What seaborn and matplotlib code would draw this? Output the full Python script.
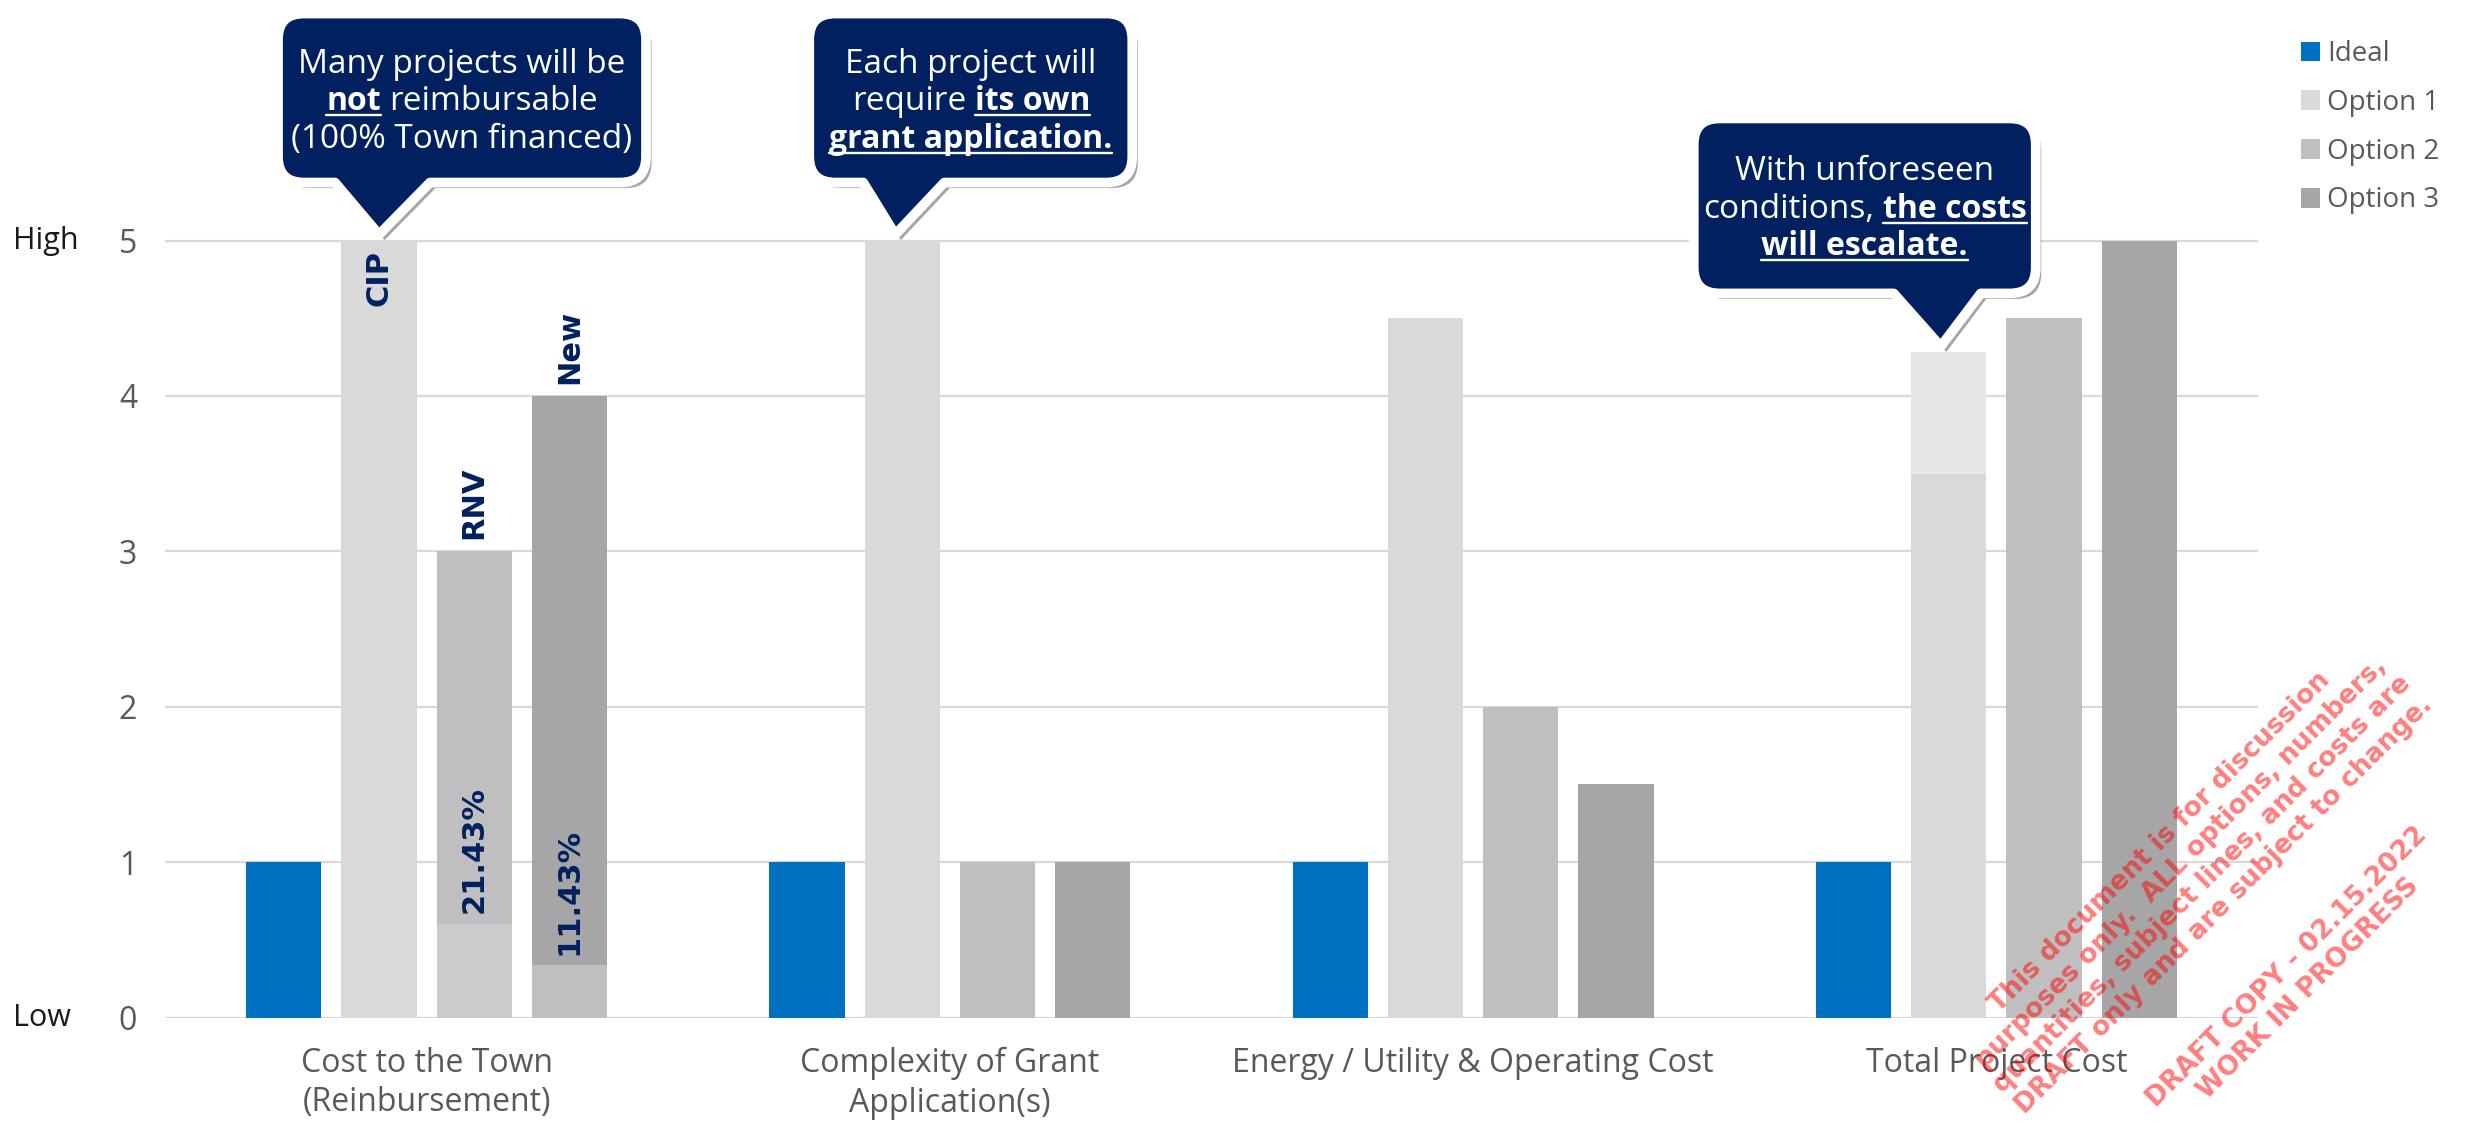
import numpy as np
import pandas as pd
import matplotlib
matplotlib.use("Agg")
import matplotlib.pyplot as plt
import seaborn as sns
from matplotlib.patches import Patch, PathPatch
from matplotlib.path import Path
from matplotlib.lines import Line2D
import matplotlib.transforms as mtransforms
import matplotlib.patheffects as pe

# ---------------- data ----------------
categories = ["Cost to the Town\n(Reinbursement)", "Complexity of Grant\nApplication(s)",
              "Energy / Utility & Operating Cost", "Total Project Cost"]
series = ["Ideal", "Option 1", "Option 2", "Option 3"]
ideal = [1, 1, 1, 1]
option1 = [5, 5, 4.5, 4.28]
option2 = [3, 1, 2, 4.5]
option3 = [4, 1, 1.5, 5]

# sub-segments drawn inside some bars
seg_cat = [0, 0, 3]
seg_series = ["Option 2", "Option 3", "Option 1"]
seg_bottom = [0, 0, 3.5]
seg_top = [0.6, 0.34, 4.28]

# labels inside / above bars
lab_cat = [0, 0, 0, 0, 0]
lab_series = ["Option 1", "Option 2", "Option 3", "Option 2", "Option 3"]
lab_text = ["CIP", "RNV", "New", "21.43%", "11.43%"]
lab_y = [4.94, 3.08, 4.08, 0.67, 0.40]
lab_va = ["top", "bottom", "bottom", "bottom", "bottom"]

y_ticks = [0, 1, 2, 3, 4, 5]
y_words = ["Low", "High"]
y_word_pos = [0, 5]

callout_cat = [0, 1, 3]
callout_lines = [
    [[("Many projects will be", 0)], [("not", 1), ("reimbursable", 0)], [("(100% Town financed)", 0)]],
    [[("Each project will", 0)], [("require", 0), ("its own", 1)], [("grant application.", 1)]],
    [[("With unforeseen", 0)], [("conditions,", 0), ("the costs", 1)], [("will escalate.", 1)]],
]

watermark1 = ("This document is for discussion\npurposes only.  ALL options, numbers,\n"
              "quantities, subject lines, and costs are\nDRAFT only and are subject to change.")
watermark2 = "DRAFT COPY - 02.15.2022\nWORK IN PROGRESS"

# ---------------- style ----------------
colors = {"Ideal": "#0070C0", "Option 1": "#D9D9D9", "Option 2": "#BFBFBF", "Option 3": "#A6A6A6"}
seg_colors = ["#CBCBCB", "#BFBFBF", "#E7E7E7"]
NAVY = "#002060"
GRAY_TXT = "#595959"

sns.set_theme(style="white")
FONT = ["Open Sans", "DejaVu Sans"]
plt.rcParams["font.family"] = FONT

W, H = 2466, 1124
fig = plt.figure(figsize=(W / 100, H / 100), dpi=100)
fig.patch.set_facecolor("white")
ax = fig.add_axes([165 / W, (H - 1017.5) / H, 2093 / W, 1017.5 / H])

df = pd.DataFrame({
    "category": categories * 4,
    "series": np.repeat(series, 4),
    "value": ideal + option1 + option2 + option3,
})

sns.barplot(data=df, x="category", y="value", hue="series", order=categories, hue_order=series,
            palette=colors, width=0.728, gap=0.21, saturation=1, errorbar=None,
            legend=False, linewidth=0, ax=ax)

ax.set_xlim(-0.5, 3.5)
ax.set_ylim(0, 6.548)
ax.set_yticks(y_ticks)
ax.yaxis.grid(True, color="#D9D9D9", linewidth=1.6)
ax.set_axisbelow(True)
for s in ax.spines.values():
    s.set_visible(False)
ax.set_xlabel("")
ax.set_ylabel("")
ax.tick_params(axis="both", length=0, colors=GRAY_TXT, labelsize=23)
ax.tick_params(axis="y", pad=20)
ax.tick_params(axis="x", pad=21)
for t in ax.get_xticklabels():
    t.set_linespacing(1.27)


def bar_patch(cat_idx, ser):
    cont = ax.containers[series.index(ser)]
    bars = sorted(cont.patches, key=lambda p: p.get_x())
    return bars[cat_idx]


# sub segments
for c, s, b, t, col in zip(seg_cat, seg_series, seg_bottom, seg_top, seg_colors):
    p = bar_patch(c, s)
    ax.bar(p.get_x() + p.get_width() / 2, t - b, bottom=b, width=p.get_width(), color=col,
           linewidth=0, zorder=p.get_zorder() + 0.1)

# bar labels
for c, s, txt, yv, va in zip(lab_cat, lab_series, lab_text, lab_y, lab_va):
    p = bar_patch(c, s)
    ax.text(p.get_x() + p.get_width() / 2, yv, txt, rotation=90, ha="center", va=va,
            color=NAVY, fontsize=22, fontweight="bold",
            family=["Liberation Sans Narrow", "DejaVu Sans"], zorder=5)

# High / Low
tr = mtransforms.blended_transform_factory(fig.transFigure, ax.transData)
for w, yv in zip(y_words, y_word_pos):
    ax.text(13 / W, yv, w, transform=tr, ha="left", va="center", fontsize=22, color="#1A1A1A")

# legend
handles = [Patch(facecolor=colors[s], edgecolor="none") for s in series]
leg = ax.legend(handles, series, loc="upper left", bbox_to_anchor=(2276 / W, 1 - 15 / H),
                bbox_transform=fig.transFigure, frameon=False, handlelength=0.7, handleheight=0.7,
                handletextpad=0.25, labelspacing=0.75, fontsize=20, labelcolor=GRAY_TXT)

# ---------------- callouts ----------------
fig.canvas.draw()
renderer = fig.canvas.get_renderer()
ident = mtransforms.IdentityTransform()

# navy shape geometry relative to tip (px, y up): box x0,x1,y0,y1 ; pointer base bl, br ; tip dx
shape_geo = [
    (-101, 267, 52, 221, -44, 51, 0),
    (-86, 237, 52, 221, -32, 49, -7),
    (-247, 95, 53, 228, -47, 40, -8),
]


def callout(tip, geo, lines):
    x0, x1, y0, y1, bl, br, dx = geo
    tx, ty = tip[0] + dx, tip[1] + 6
    L, R, B, T = tx + x0, tx + x1, ty + y0, ty + y1
    r = 26
    verts = [(tx + bl, B), (tx, ty), (tx + br, B), (R - r, B), (R, B), (R, B + r),
             (R, T - r), (R, T), (R - r, T), (L + r, T), (L, T), (L, T - r),
             (L, B + r), (L, B), (L + r, B), (tx + bl, B), (0, 0)]
    codes = [Path.MOVETO, Path.LINETO, Path.LINETO, Path.LINETO, Path.CURVE3, Path.CURVE3,
             Path.LINETO, Path.CURVE3, Path.CURVE3, Path.LINETO, Path.CURVE3, Path.CURVE3,
             Path.LINETO, Path.CURVE3, Path.CURVE3, Path.LINETO, Path.CLOSEPOLY]
    patch = PathPatch(Path(verts, codes), transform=ident, facecolor=NAVY, edgecolor="white",
                      linewidth=7, joinstyle="round", zorder=10)
    patch.set_path_effects([pe.SimplePatchShadow(offset=(4, -4), shadow_rgbFace="black", alpha=0.35),
                            pe.Normal()])
    fig.add_artist(patch)

    fs = 24
    fs_px = fs * 100 / 72
    line_h = 37.5
    cx = (L + R) / 2
    cy = (B + T) / 2
    n = len(lines)
    tmp = fig.text(0, 0, "x x", fontsize=fs, transform=ident)
    tmp2 = fig.text(0, 0, "xx", fontsize=fs, transform=ident)
    space = tmp.get_window_extent(renderer).width - tmp2.get_window_extent(renderer).width
    tmp.remove()
    tmp2.remove()
    for i, segs in enumerate(lines):
        yc = cy + (n - 1) / 2 * line_h - i * line_h
        base = yc - 0.36 * fs_px
        texts = []
        for s, bold in segs:
            t = fig.text(0, base, s, fontsize=fs - (1 if bold else 0), color="white",
                         fontweight="bold" if bold else "normal",
                         transform=ident, ha="left", va="baseline", zorder=12)
            texts.append(t)
        widths = [t.get_window_extent(renderer).width for t in texts]
        total = sum(widths) + space * (len(texts) - 1)
        x = cx - total / 2
        for t, w, (s, bold) in zip(texts, widths, segs):
            t.set_x(x)
            if bold:
                fig.add_artist(Line2D([x, x + w], [base - 5, base - 5], transform=ident,
                                      color="white", linewidth=1.7, zorder=12))
            x += w + space


for ci, geo, lines in zip(callout_cat, shape_geo, callout_lines):
    p = bar_patch(ci, "Option 1")
    tip = ax.transData.transform((p.get_x() + p.get_width() / 2, p.get_height()))
    callout(tip, geo, lines)

# ---------------- watermark ----------------
fig.text(2192 / W, 1 - 874 / H, watermark1, rotation=45, ha="center", va="center",
         multialignment="center", fontsize=19, fontweight="bold", color=(1, 0, 0, 0.5),
         linespacing=1.2, zorder=20, family=["DejaVu Sans"])
fig.text(2298 / W, 1 - 978 / H, watermark2, rotation=45, ha="center", va="center",
         multialignment="center", fontsize=19, fontweight="bold", color=(1, 0, 0, 0.5),
         linespacing=1.2, zorder=20, family=["DejaVu Sans"])

fig.savefig("out.png", dpi=100, facecolor="white")
